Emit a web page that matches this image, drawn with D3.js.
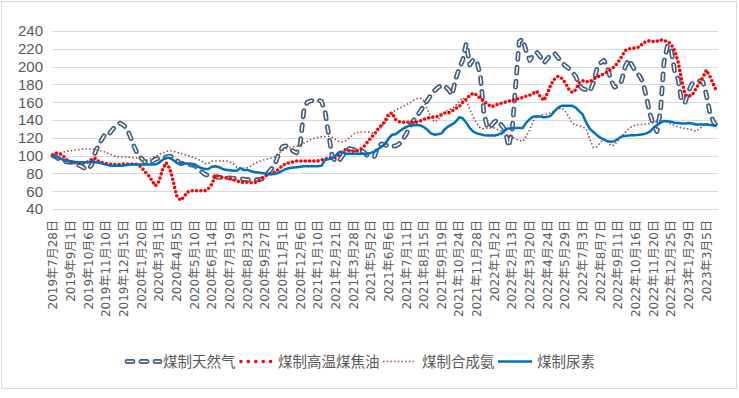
<!DOCTYPE html>
<html><head><meta charset="utf-8">
<script src="https://cdn.jsdelivr.net/npm/d3@7"></script>
<style>html,body{margin:0;padding:0;background:#fff;}svg{display:block;}</style>
</head><body>
<svg id="c" width="739" height="398"></svg>
<script>
const tickLabels = ["2019年7月28日","2019年9月1日","2019年10月6日","2019年11月10日","2019年12月15日","2020年1月20日","2020年3月1日","2020年4月5日","2020年5月10日","2020年6月14日","2020年7月19日","2020年8月23日","2020年9月27日","2020年11月1日","2020年12月6日","2021年1月10日","2021年2月21日","2021年3月28日","2021年5月2日","2021年6月6日","2021年7月11日","2021年8月15日","2021年9月19日","2021年10月24日","2021年11月28日","2022年1月2日","2022年2月13日","2022年3月20日","2022年4月24日","2022年5月29日","2022年7月3日","2022年8月7日","2022年9月11日","2022年10月16日","2022年11月20日","2022年12月25日","2023年1月29日","2023年3月5日"];
const yTicks = [40,60,80,100,120,140,160,180,200,220,240];
const seriesNames = ["煤制天然气","煤制高温煤焦油","煤制合成氨","煤制尿素"];

const gas = [100,98,95,94,93,92.5,92,90,88,85.5,
84.5,90,104,113,119,126,125,130,134,136.5,
134,130,120,110,101,97,93,91,93,96,
97,97,98.5,99.5,98,95,91,91.5,91,89.5,
89,86,82,79,77.5,77,76,75.5,75.5,75,
75,74.5,74.5,74,73.5,73,73,73,73,73.5,
76,81,86,92,103,110,111,108.5,105,103,
113,150,160,161.5,162,162.5,161,150,125,100,
93,94,100,106,108,107,106,106,104,100,
98.5,99,110,113,112,111,110,111,113,118,
124,132,139,144,150,156,162,168,173,176.5,
179,178,174,168,186,198,207,226,202,208,
206,190,148,131,133,138,140,134,129,110,
128,180,228,231,217,207,214,216,211,204,
209,213,215,210,205,201,198,194,189,179,
175,174,172,182,197,204,207,199,184,177,
178,184,200,208,201,194,190,183,166,147,
135,127,150,205,224,219,195,186,160,160,
173,181,183,184,183,168,148,138,133];

const tar = [100,103,102,99,95,93,92,91.5,91,92,
93,96,97,93,92,91,90.5,90,90,90,
90.5,90.5,90.5,90.5,90,87,82,78,72,66,
71,84,92,86,72,55,50,53,59,60.5,
60.5,60.5,60.5,60.5,63,68,78,76.5,75.5,75,
74.5,73,71.5,70.5,70,70,69.5,69.5,71,74,
77,79,80,82,85,89,91,92,93,94,
94,94,94,94,94,94,95,96,97,97,
98,101,105,107,105,105,105,107,110,115,
120,124,130,134,138.5,146.5,148,140.5,138,137.5,
137.5,137.5,137.5,137.5,139,141,142,143,143.5,144,
146,148,148,150,153,155,160,163,168,170,
168,164,161,158,155,156,158,159,160,161,
162,163,164.5,165,167,168,170,172,166,162,
170,180,186,189,187,182,175,171,174,182,
184,183,183,186,188,190,192,194,197,200,
205,211,218,220,220.5,221,222,226,228.5,229,
228,228.5,230,229,228.5,225,218,205,185,168,
167,168,175,181,188,196,189,180,171];

const ammonia = [100,101.5,103,104,105,105.5,106,106.5,107,107.5,
107.5,107.5,107,106,105,103.5,102,100,99,98.5,
98.5,98.5,98,97.5,97,95.5,94,95.5,97.5,99,
101,103,104.5,105.5,105,104,102.5,101.5,100.5,99,
97.5,96,94,91,91.5,93.5,94,94,94,94,
93,91,87,86,86,86.5,88,91,93,94.5,
95.5,96.5,97.5,99,103,106,108,109,110,110.5,
112,114,116,118,119.5,120.5,121,121.5,121.5,120.5,
118,116,115.5,117,120,124,126,126.5,126.5,126.5,
126,124,128,133,137,142,148,151,153,155,
157,159,162,164,164.5,161,152,143,138,140,
145,149,151.5,153,156,161,165,162,152,143,
136,131,130,131,131,131,129,127.5,124.5,122.5,
121,118.5,117,116,122,129,139,144,145.5,146,
147,148,150,152,153.5,150,144,136.5,134.5,133.5,
132,130,118,109,110,115,118,116,111,112,
117,122,126,130,133,134.5,135,135,135.5,136,
137,138.5,139.5,139,137,135.5,133.5,132.5,131,130.5,
130,129,127.5,130,133,136,135,133,131];

const urea = [99,98.5,97,95,94,93.5,93,92.5,92.5,92.5,
92.5,92.5,92.5,92,91,90,89,88.5,88.5,88.5,
89,89.5,90,90,90,90,90,90,90,90,
92,95,97.5,97.5,95,92,91,91,91,90.5,
89,88,86,85,85,87.5,88,87,85,84,
83.5,83,83,86,83.5,84,82.5,81.5,81,80.5,
80,79.5,79,79.5,81,83,85,86,86.5,87,
87.5,88,88,88,88,88,88.5,95,96,97,
100,104,104,102,102,102,102,102,102,102,
103,104.5,107,110,113,119,123.5,124,127,130,
132,134,134,134,134,132,129,125,123.5,124,
125,130,133,135,138,143,142,137,131,127,
125,124,123,122.5,122.5,122.5,123.5,125,129,130.5,
131,131,131,131,137,141,144,144,144,143,
143.5,145,150,154,156,156,156,156,154,150,
146,137,130,126.5,123,120,118,116,115.5,116,
119,121.5,122,122.5,123,123,123.5,124,125,127,
131,134,137,139,138.5,138,137,136.5,136,136,
136.5,136,135,135,135,135,134.5,134,134];

const svg = d3.select("#c");
const N = urea.length;
const idx = d3.range(N);
const x = d3.scalePoint().domain(idx).range([53, 717]);
const y = d3.scaleLinear().domain([40, 240]).range([209, 31]);
const FONT = "'Noto Sans CJK SC','Noto Sans',sans-serif";
const XFONT = "'DejaVu Sans','Noto Sans CJK SC',sans-serif";
const NFONT = "'Liberation Sans',Arial,sans-serif";
const TXT = "#595959";

// border
svg.append("rect").attr("x",1.5).attr("y",1.5).attr("width",735).attr("height",387)
  .attr("fill","#fff").attr("stroke","#d9d9d9").attr("stroke-width",1);

// gridlines
svg.append("g").selectAll("line").data(yTicks).join("line")
  .attr("x1",52).attr("x2",718)
  .attr("y1",d=>Math.round(y(d))+0.5).attr("y2",d=>Math.round(y(d))+0.5)
  .attr("stroke","#d9d9d9").attr("stroke-width",1);

// y labels
svg.append("g").selectAll("text").data(yTicks).join("text")
  .attr("x",43).attr("y",d=>y(d)).attr("dy","0.36em")
  .attr("text-anchor","end").attr("font-family",NFONT).attr("font-size",15)
  .attr("fill",TXT).text(d=>d);

// x labels
const tickIdx = tickLabels.map((t,i)=>i*5);
svg.append("g").selectAll("text").data(tickIdx).join("text")
  .attr("transform",d=>`translate(${x(d)},220) rotate(-90)`)
  .attr("dy","0.36em").attr("text-anchor","end")
  .attr("font-family",XFONT).attr("font-size",12).attr("fill",TXT)
  .text((d,i)=>tickLabels[i]);

const line = d3.line().x((d,i)=>x(i)).y(d=>y(d));
const GAS = "#3f5e80";

// 煤制天然气 : double-outline long dash
svg.append("path").datum(gas).attr("d",line).attr("fill","none")
  .attr("stroke",GAS).attr("stroke-width",4.8).attr("stroke-linecap","round")
  .attr("stroke-linejoin","round").attr("stroke-dasharray","6 8");
svg.append("path").datum(gas).attr("d",line).attr("fill","none")
  .attr("stroke","#fff").attr("stroke-width",1.5).attr("stroke-linecap","round")
  .attr("stroke-linejoin","round").attr("stroke-dasharray","6 8");

// 煤制高温煤焦油 : red round dots
svg.append("path").datum(tar).attr("d",line).attr("fill","none")
  .attr("stroke","#ff0000").attr("stroke-width",3.6).attr("stroke-linecap","round")
  .attr("stroke-dasharray","0 4.3");

// 煤制合成氨 : dotted brown
svg.append("path").datum(ammonia).attr("d",line).attr("fill","none")
  .attr("stroke","#9c4a47").attr("stroke-width",1.6)
  .attr("stroke-dasharray","1.5 2.2");

// 煤制尿素 : solid blue
svg.append("path").datum(urea).attr("d",line).attr("fill","none")
  .attr("stroke","#0070c0").attr("stroke-width",2.5).attr("stroke-linejoin","round");

// legend
const ly = 361.5;
const lg = svg.append("g");
lg.append("line").attr("x1",127).attr("x2",160).attr("y1",ly).attr("y2",ly)
  .attr("stroke",GAS).attr("stroke-width",4.8).attr("stroke-linecap","round").attr("stroke-dasharray","6 8");
lg.append("line").attr("x1",127).attr("x2",160).attr("y1",ly).attr("y2",ly)
  .attr("stroke","#fff").attr("stroke-width",1.5).attr("stroke-linecap","round").attr("stroke-dasharray","6 8");
lg.append("line").attr("x1",241).attr("x2",272).attr("y1",ly).attr("y2",ly)
  .attr("stroke","#ff0000").attr("stroke-width",3.6).attr("stroke-linecap","round").attr("stroke-dasharray","0 7.4");
lg.append("line").attr("x1",383).attr("x2",414).attr("y1",ly).attr("y2",ly)
  .attr("stroke","#9c4a47").attr("stroke-width",1.6).attr("stroke-dasharray","1.5 2.2");
lg.append("line").attr("x1",498).attr("x2",532).attr("y1",ly).attr("y2",ly)
  .attr("stroke","#0070c0").attr("stroke-width",2.5);
const lx = [163, 278, 422, 537];
lg.selectAll("text").data(seriesNames).join("text")
  .attr("x",(d,i)=>lx[i]).attr("y",ly).attr("dy","0.36em")
  .attr("font-family",FONT).attr("font-size",14.5).attr("fill",TXT).text(d=>d);
</script>
</body></html>
